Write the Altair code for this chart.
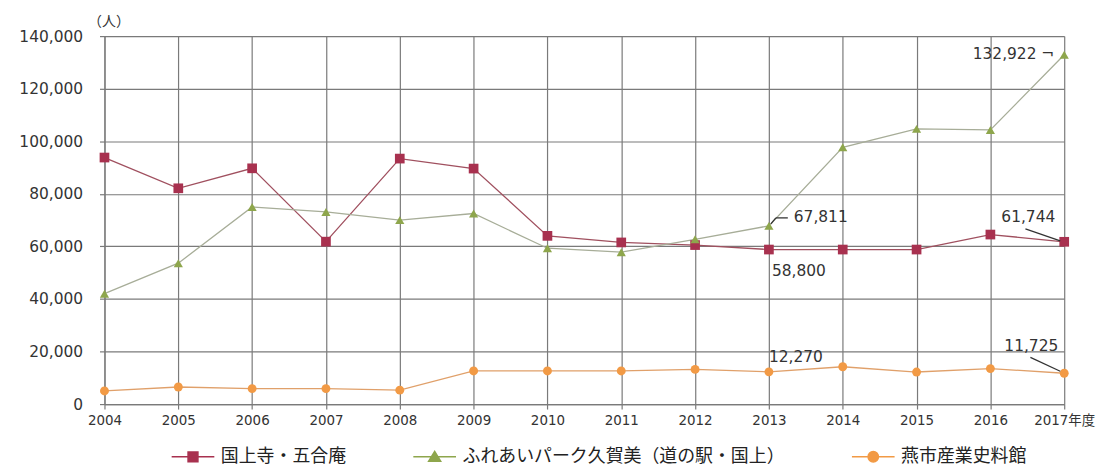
import altair as alt
import pandas as pd

years = list(range(2004, 2018))
series_names = ["国上寺・五合庵", "ふれあいパーク久賀美（道の駅・国上）", "燕市産業史料館"]
kokujoji = [93800, 82100, 89700, 61800, 93400, 89600, 64000, 61500, 60500, 58800, 58800, 58800, 64500, 61744]
fureai = [42000, 53600, 75000, 73100, 70000, 72500, 59300, 57800, 62700, 67811, 97700, 104700, 104300, 132922]
tsubame = [5000, 6500, 5900, 5900, 5300, 12600, 12600, 12600, 13200, 12270, 14200, 12200, 13500, 11725]
y_ticks = [0, 20000, 40000, 60000, 80000, 100000, 120000, 140000]

ann_years = [2017, 2013, 2013, 2017, 2013, 2017]
ann_values = [132922, 67811, 58800, 61744, 12270, 11725]
ann_texts = ["132,922 ¬", "67,811", "58,800", "61,744", "12,270", "11,725"]

marker_colors = ["#a8314f", "#8ea64c", "#f29a45"]
line_colors = ["#a0505f", "#a7ad98", "#e0a06a"]
shapes = ["square", "triangle-up", "circle"]
sizes = [95, 85, 80]
legend_paths = [
    "M-3.9,0H3.9M-0.9,-0.9H0.9V0.9H-0.9Z",
    "M-3.9,0H3.9M0,-1L1.1,0.8H-1.1Z",
    "M-3.9,0H3.9M0.95,0A0.95,0.95,0,1,1,-0.95,0A0.95,0.95,0,1,1,0.95,0Z",
]

rows = []
for name, vals in zip(series_names, [kokujoji, fureai, tsubame]):
    for yr, v in zip(years, vals):
        rows.append({"year": yr, "value": v, "series": name})
df = pd.DataFrame(rows)

ann = pd.DataFrame({"year": ann_years, "value": ann_values, "text": ann_texts, "idx": list(range(len(ann_years)))})

x_enc = alt.X(
    "year:Q",
    scale=alt.Scale(domain=[2004, 2017], nice=False, zero=False),
    axis=alt.Axis(
        values=years, format="d", title=None,
        labelExpr="datum.value == 2017 ? '2017年度' : datum.label",
        labelFlush=False, labelOverlap=False,
        grid=True, gridColor="#7a7a7a", gridWidth=1.2,
        domainColor="#7a7a7a", domainWidth=1.2,
        tickColor="#7a7a7a", tickSize=5, tickWidth=1.2,
        labelFont="DejaVu Sans, Noto Sans CJK JP", labelFontSize=13.5,
        labelColor="#333333", labelPadding=5,
    ),
)
y_enc = alt.Y(
    "value:Q",
    scale=alt.Scale(domain=[0, 140000], nice=False),
    axis=alt.Axis(
        values=y_ticks, format=",d", title="（人）", titleAngle=0,
        titleX=4, titleY=-15, titleAlign="center", titleBaseline="middle",
        titleFont="Noto Sans CJK JP", titleFontSize=14, titleFontWeight="normal",
        titleColor="#333333",
        grid=True, gridColor="#7a7a7a", gridWidth=1.2,
        domainColor="#7a7a7a", domainWidth=1.2,
        tickColor="#7a7a7a", tickSize=5, tickWidth=1.2,
        labelFont="DejaVu Sans", labelFontSize=15.5, labelColor="#333333",
        labelPadding=17,
    ),
)

base = alt.Chart(df)
layers = []
for i, name in enumerate(series_names):
    sub = base.transform_filter(alt.datum.series == name)
    layers.append(sub.mark_line(color=line_colors[i], strokeWidth=1.3).encode(x=x_enc, y=y_enc))
for i, name in enumerate(series_names):
    sub = base.transform_filter(alt.datum.series == name)
    layers.append(
        sub.mark_point(shape=shapes[i], filled=True, color=marker_colors[i], size=sizes[i], opacity=1).encode(x=x_enc, y=y_enc)
    )

# legend layer (no visible marks)
scale_color = alt.Scale(domain=series_names, range=marker_colors)
legend = alt.Legend(
    title=None, orient="none", direction="horizontal", legendX=80, legendY=414,
    symbolSize=121, symbolStrokeWidth=1.5, labelFont="Noto Sans CJK JP",
    labelFontSize=18, labelColor="#222222", labelLimit=500, labelOffset=19,
    columnPadding=64, padding=0, symbolOpacity=1,
)
legend_layer = base.transform_filter("false").mark_point(filled=True).encode(
    x=x_enc, y=y_enc,
    fill=alt.Fill("series:N", scale=scale_color, legend=legend, sort=series_names),
    stroke=alt.Stroke("series:N", scale=scale_color, legend=legend, sort=series_names),
    shape=alt.Shape("series:N", scale=alt.Scale(domain=series_names, range=legend_paths), legend=legend, sort=series_names),
)
layers.append(legend_layer)

# annotations
ann_base = alt.Chart(ann)
ann_style = [
    dict(align="right", dx=-10, dy=-1),
    dict(align="left", dx=25, dy=-9),
    dict(align="left", dx=3, dy=22),
    dict(align="right", dx=-9, dy=-25),
    dict(align="left", dx=0, dy=-15),
    dict(align="right", dx=-6, dy=-27),
]
for i, st in enumerate(ann_style):
    layers.append(
        ann_base.transform_filter(alt.datum.idx == i).mark_text(
            baseline="middle", font="DejaVu Sans", fontSize=15.5, color="#333333", **st
        ).encode(x=x_enc, y=y_enc, text="text:N")
    )

leaders = [
    (1, 2, -2, 7, -8),
    (1, 7, -8, 19, -8),
    (3, -4, -1, -39, -13),
    (5, -4, -2, -34, -16),
]
for idx, xo, yo, x2o, y2o in leaders:
    layers.append(
        ann_base.transform_filter(alt.datum.idx == idx).mark_rule(
            color="#333333", strokeWidth=1.3, xOffset=xo, yOffset=yo, x2Offset=x2o, y2Offset=y2o
        ).encode(x=x_enc, y=y_enc, x2="year:Q", y2="value:Q")
    )

chart = alt.layer(*layers).properties(
    width=965, height=370,
    padding={"left": 97, "top": 27, "right": 40, "bottom": 62},
    autosize=alt.AutoSizeParams(type="none"),
    background="white",
).configure_view(stroke=None)

chart.save("out.html", embed_options={"renderer": "svg", "actions": False})
